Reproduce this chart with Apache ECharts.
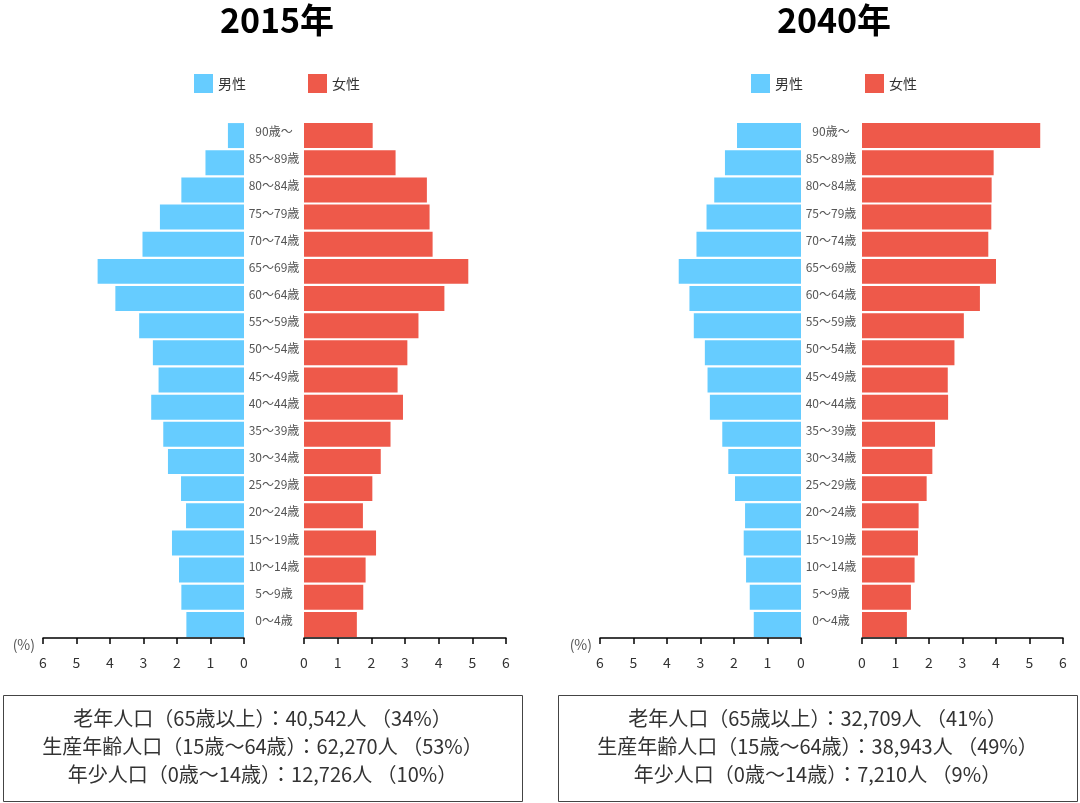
<!DOCTYPE html>
<html>
<head>
<meta charset="utf-8">
<script src="https://cdn.jsdelivr.net/npm/echarts@6/dist/echarts.min.js"></script>
<style>
  html, body { margin: 0; padding: 0; background: #fff; }
  #main { width: 1080px; height: 803px; }
</style>
</head>
<body>
<div id="main"></div>
<script>
var ages = ['0～4歳', '5～9歳', '10～14歳', '15～19歳', '20～24歳', '25～29歳', '30～34歳',
  '35～39歳', '40～44歳', '45～49歳', '50～54歳', '55～59歳', '60～64歳', '65～69歳',
  '70～74歳', '75～79歳', '80～84歳', '85～89歳', '90歳～'];

// 構成比 (%)、若い順
var male2015 = [1.72, 1.87, 1.94, 2.15, 1.73, 1.88, 2.27, 2.41, 2.77, 2.55, 2.72, 3.13, 3.84, 4.37, 3.03, 2.51, 1.87, 1.15, 0.48];
var female2015 = [1.57, 1.76, 1.83, 2.14, 1.75, 2.03, 2.28, 2.57, 2.94, 2.78, 3.07, 3.40, 4.17, 4.88, 3.82, 3.73, 3.65, 2.72, 2.04];
var male2040 = [1.41, 1.53, 1.64, 1.71, 1.67, 1.97, 2.17, 2.35, 2.72, 2.79, 2.87, 3.20, 3.33, 3.65, 3.12, 2.82, 2.59, 2.27, 1.91];
var female2040 = [1.34, 1.46, 1.57, 1.67, 1.69, 1.93, 2.10, 2.18, 2.57, 2.56, 2.76, 3.04, 3.52, 4.00, 3.77, 3.86, 3.87, 3.93, 5.32];

var years = ['2015年', '2040年'];
var summary2015 = ['老年人口（65歳以上）：40,542人 （34%）', '生産年齢人口（15歳～64歳）：62,270人 （53%）', '年少人口（0歳～14歳）：12,726人 （10%）'];
var summary2040 = ['老年人口（65歳以上）：32,709人 （41%）', '生産年齢人口（15歳～64歳）：38,943人 （49%）', '年少人口（0歳～14歳）：7,210人 （9%）'];
var xTicks = [0, 6, 1]; // min, max, interval

var FONT = '"Noto Sans CJK JP", "Noto Sans", sans-serif';
var BLUE = '#66ccff';
var RED = '#ee594a';

var myChart = echarts.init(document.getElementById('main'));

// 左右の位置 (px)
var panels = [
  { male: [43, 244], female: [304, 506], mid: 274, legend: 194, box: 3 },
  { male: [600, 801], female: [862, 1063], mid: 831, legend: 751, box: 558 }
];

var grids = [], xAxes = [], yAxes = [], series = [], titles = [], legends = [], graphics = [];
var maleData = [male2015, male2040];
var femaleData = [female2015, female2040];
var summaries = [summary2015, summary2040];

panels.forEach(function (p, i) {
  var gm = i * 2, gf = i * 2 + 1;
  grids.push({ left: p.male[0], width: p.male[1] - p.male[0], top: 122, height: 516 });
  grids.push({ left: p.female[0], width: p.female[1] - p.female[0], top: 122, height: 516 });

  var axisCommon = {
    type: 'value', min: xTicks[0], max: xTicks[1], interval: xTicks[2],
    axisLine: { show: true, onZero: false, lineStyle: { color: '#000', width: 1.5 } },
    axisTick: { show: true, length: 6, lineStyle: { color: '#000', width: 1.5 } },
    axisLabel: { color: '#333', fontSize: 14, fontFamily: FONT, margin: 18 },
    splitLine: { show: false }
  };
  xAxes.push(Object.assign({}, axisCommon, {
    gridIndex: gm, inverse: true,
    name: '(%)', nameLocation: 'end', nameGap: 8,
    nameTextStyle: { color: '#555', fontSize: 14, fontFamily: FONT, verticalAlign: 'top' }
  }));
  xAxes.push(Object.assign({}, axisCommon, { gridIndex: gf }));

  yAxes.push({
    type: 'category', gridIndex: gm, data: ages, position: 'right',
    axisLine: { show: false }, axisTick: { show: false },
    axisLabel: {
      align: 'center', margin: p.mid - p.male[1], color: '#555', fontSize: 12,
      fontFamily: FONT, verticalAlign: 'bottom', lineHeight: 8
    }
  });
  yAxes.push({
    type: 'category', gridIndex: gf, data: ages,
    axisLine: { show: false }, axisTick: { show: false }, axisLabel: { show: false }
  });

  series.push({
    name: '男性', type: 'bar', xAxisIndex: gm, yAxisIndex: gm, data: maleData[i],
    barCategoryGap: '8%', itemStyle: { color: BLUE }, animation: false
  });
  series.push({
    name: '女性', type: 'bar', xAxisIndex: gf, yAxisIndex: gf, data: femaleData[i],
    barCategoryGap: '8%', itemStyle: { color: RED }, animation: false
  });

  titles.push({
    text: years[i], left: p.mid - 2, top: -2, textAlign: 'center',
    textStyle: { fontSize: 34, fontWeight: 'bold', color: '#000', fontFamily: FONT }
  });

  legends.push({
    data: ['男性', '女性'], left: p.legend, top: 74, padding: 0, icon: 'rect',
    itemWidth: 19, itemHeight: 19, itemGap: 62, selectedMode: false,
    textStyle: { fontSize: 14, color: '#333', fontFamily: FONT }
  });

  graphics.push({
    type: 'rect', left: p.box, top: 695,
    shape: { width: 519, height: 106 },
    style: { fill: '#fff', stroke: '#444', lineWidth: 1 }
  });
  graphics.push({
    type: 'text', x: p.box + 259.5, y: 746,
    style: {
      text: summaries[i].join('\n'), align: 'center', verticalAlign: 'middle',
      fontSize: 20, lineHeight: 28, fill: '#333', fontFamily: FONT
    }
  });
});

var option = {
  backgroundColor: '#fff',
  textStyle: { fontFamily: FONT },
  title: titles,
  legend: legends,
  grid: grids,
  xAxis: xAxes,
  yAxis: yAxes,
  series: series,
  graphic: graphics
};

myChart.setOption(option);
</script>
</body>
</html>
